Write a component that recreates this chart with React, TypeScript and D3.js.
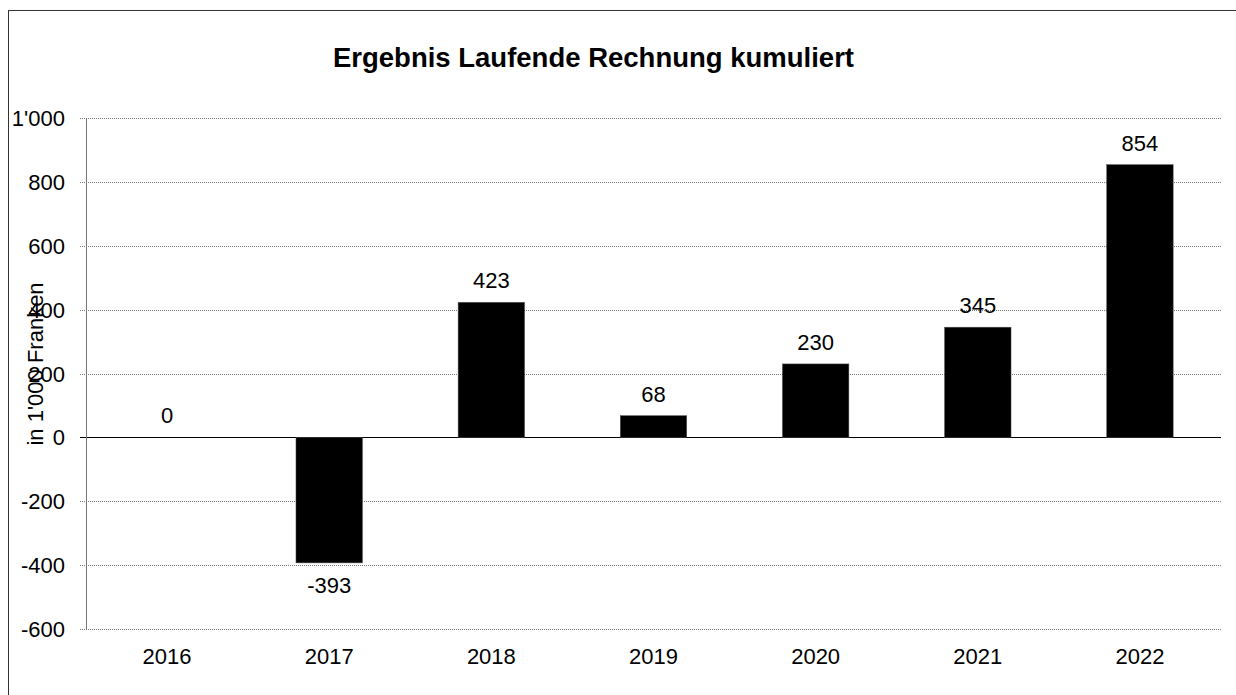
import React from "react";
import * as d3 from "d3";

const categories = ["2016", "2017", "2018", "2019", "2020", "2021", "2022"];
const values = [0, -393, 423, 68, 230, 345, 854];
const yTicks = [-600, -400, -200, 0, 200, 400, 600, 800, 1000];
const title = "Ergebnis Laufende Rechnung kumuliert";
const yLabel = "in 1'000 Franken";

const W = 1236;
const H = 695;
const left = 86;
const right = 1221;
const top = 118;
const bottom = 629;
const font = "'Liberation Sans', Arial, sans-serif";

const fmt = (v: number) => {
  const s = Math.abs(v).toString().replace(/\B(?=(\d{3})+(?!\d))/g, "'");
  return (v < 0 ? "-" : "") + s;
};

export default function App() {
  const x = d3.scaleBand<string>().domain(categories).range([left, right]).paddingInner(0.59).paddingOuter(0.295);
  const y = d3.scaleLinear().domain([-600, 1000]).range([bottom, top]);
  const bw = x.bandwidth();
  return (
    <svg width={W} height={H} style={{ position: "absolute", left: 0, top: 0, background: "#fff" }} fontFamily={font}>
      <rect x={8.5} y={10.5} width={W + 10} height={H + 10} fill="none" stroke="#333" strokeWidth={1} />
      <text x={593.5} y={67} textAnchor="middle" fontSize={27.5} fontWeight="bold">{title}</text>
      {yTicks.map((t) => (
        <g key={t}>
          <line
            x1={80}
            x2={right}
            y1={Math.round(y(t)) + 0.5}
            y2={Math.round(y(t)) + 0.5}
            stroke={t === 0 ? "#000" : "#777"}
            strokeWidth={1}
            strokeDasharray={t === 0 ? undefined : "1,1"}
          />
          <text x={65} y={y(t) + 8} textAnchor="end" fontSize={22}>{fmt(t)}</text>
        </g>
      ))}
      <line x1={86.5} x2={86.5} y1={top} y2={bottom} stroke="#777" strokeWidth={1} />
      {categories.map((c, i) => {
        const v = values[i];
        const y0 = y(0);
        const yv = y(v);
        const bx = x(c)!;
        const cx = bx + bw / 2;
        return (
          <g key={c}>
            {v !== 0 && (
              <rect x={bx} y={Math.min(y0, yv)} width={bw} height={Math.abs(yv - y0)} fill="#000" stroke="#555" strokeWidth={0.5} />
            )}
            <text
              x={cx}
              y={v >= 0 ? yv - 14 : yv + 30}
              textAnchor="middle"
              fontSize={22}
            >
              {fmt(v)}
            </text>
            <text x={cx} y={664} textAnchor="middle" fontSize={22}>{c}</text>
          </g>
        );
      })}
      <text transform={`translate(43,364) rotate(-90)`} textAnchor="middle" fontSize={22}>{yLabel}</text>
    </svg>
  );
}
